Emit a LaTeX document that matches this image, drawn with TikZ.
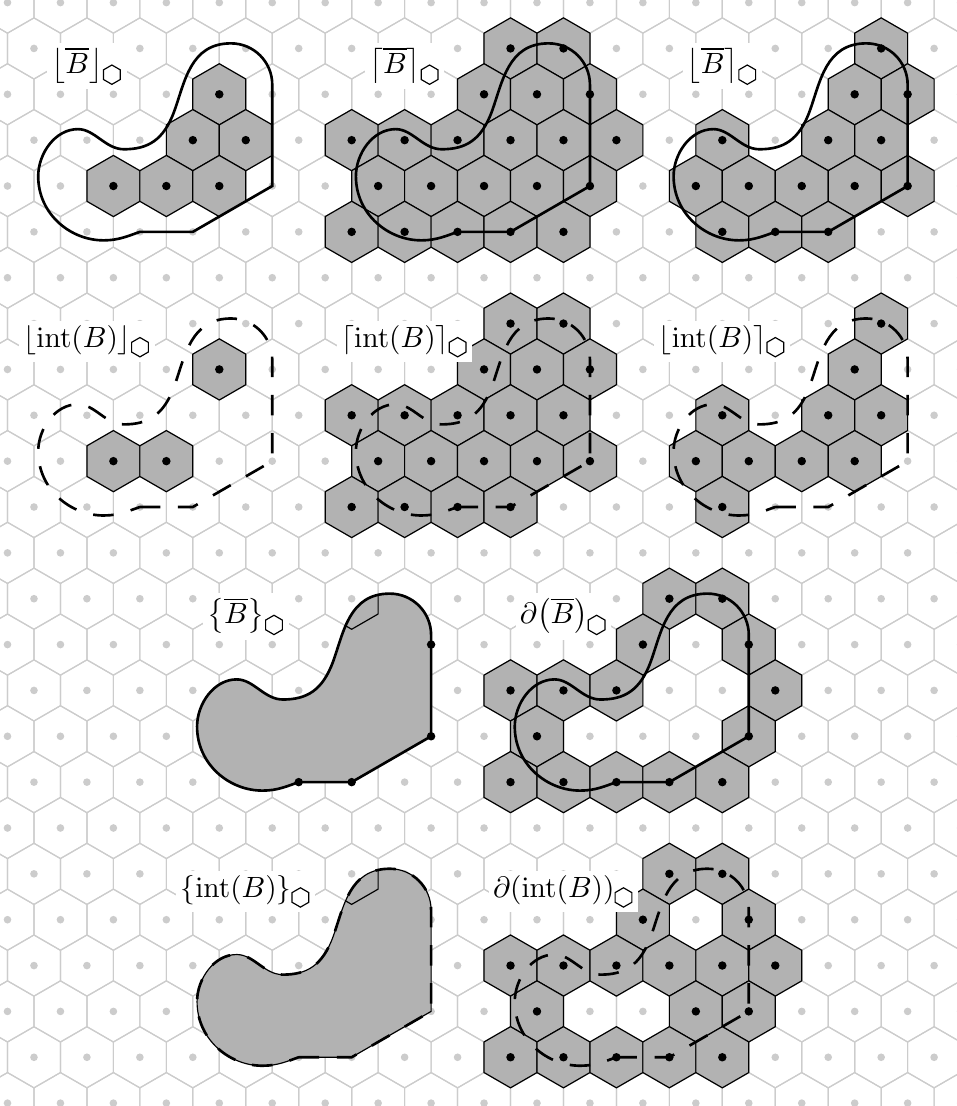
\documentclass[tikz,border=0pt]{standalone}
\usepackage{amsmath}

\tikzset{
  gridline/.style={draw=black!20, thin},
  griddot/.style={fill=black!20},
  cell/.style={draw=black, fill=black!30, thin},
  bdry/.style={draw=black, line width=0.9pt},
  ibdry/.style={draw=black, line width=0.9pt, dash pattern=on 7pt off 6pt},
  lbl/.style={fill=white, inner sep=1.5pt},
}

% one pointy-top hexagon around (#2,#3)
\newcommand{\hexat}[3][]{\draw[#1] (#2,#3) +(30:0.57735) -- +(90:0.57735) -- +(150:0.57735) -- +(210:0.57735) -- +(270:0.57735) -- +(330:0.57735) -- cycle;}
% shaded cells and their centres, given as j/k (column/row)
\newcommand{\cells}[1]{\foreach \j/\k in {#1} {\pgfmathsetmacro\cx{\j+0.5*mod(\k,2)}\pgfmathsetmacro\cy{-0.8660254*\k}\hexat[cell]{\cx}{\cy}}}
\newcommand{\celldots}[1]{\foreach \j/\k in {#1} {\pgfmathsetmacro\cx{\j+0.5*mod(\k,2)}\pgfmathsetmacro\cy{-0.8660254*\k}\fill (\cx,\cy) circle (0.08);}}
% the set B
\newcommand{\Bpath}{(2.5,-4.330) -- (3.5,-4.330) -- (5,-3.464) -- (5,-1.55) arc[start angle=0, end angle=90, radius=0.78] .. controls (3.45,-0.77) and (3.35,-1.5) .. (3.15,-2.05) .. controls (2.95,-2.6) and (2.65,-2.77) .. (2.2,-2.77) .. controls (1.85,-2.77) and (1.65,-2.39) .. (1.33,-2.39) .. controls (0.9,-2.39) and (0.58,-2.85) .. (0.58,-3.28) .. controls (0.58,-4.0) and (1.2,-4.5) .. (1.83,-4.49) .. controls (2.1,-4.49) and (2.3,-4.4) .. (2.5,-4.330) -- cycle}

% small hexagon for the subscripts
\newsavebox{\hexbox}
\newcommand{\hx}{\usebox{\hexbox}}

\begin{document}
\sbox{\hexbox}{\begin{pgfpicture}
  \pgfsetlinewidth{0.4pt}
  \pgfpathmoveto{\pgfpointpolar{30}{3.3pt}}
  \pgfpathlineto{\pgfpointpolar{90}{3.3pt}}
  \pgfpathlineto{\pgfpointpolar{150}{3.3pt}}
  \pgfpathlineto{\pgfpointpolar{210}{3.3pt}}
  \pgfpathlineto{\pgfpointpolar{270}{3.3pt}}
  \pgfpathlineto{\pgfpointpolar{330}{3.3pt}}
  \pgfpathclose
  \pgfusepath{stroke}
\end{pgfpicture}}%
\begin{tikzpicture}[x=0.635cm, y=0.635cm]
  \useasboundingbox (-0.1416,0.0491) rectangle (17.932,-20.839);
  \clip (-0.1416,0.0491) rectangle (17.932,-20.839);

  % background grid
  \foreach \k in {-1,...,24}
    \foreach \j in {-1,...,18} {
      \pgfmathsetmacro\cx{\j+0.5*mod(\k,2)}
      \pgfmathsetmacro\cy{-0.8660254*\k}
      \hexat[gridline]{\cx}{\cy}
      \fill[griddot] (\cx,\cy) circle (0.072);
    }

  % row 1
  \begin{scope}
    \cells{4/2,3/3,4/3,2/4,3/4,4/4}
    \draw[bdry] \Bpath;
    \celldots{4/2,3/3,4/3,2/4,3/4,4/4}
    \node[lbl] (floorB) at (1.5,-1.2) {$\left\lfloor\overline{B}\right\rfloor_{\hx}$};
  \end{scope}
  \begin{scope}[shift={(6,0)}]
    \cells{3/1,4/1,3/2,4/2,5/2,0/3,1/3,2/3,3/3,4/3,5/3,1/4,2/4,3/4,4/4,5/4,0/5,1/5,2/5,3/5,4/5}
    \draw[bdry] \Bpath;
    \celldots{3/1,4/1,3/2,4/2,5/2,0/3,1/3,2/3,3/3,4/3,5/3,1/4,2/4,3/4,4/4,5/4,0/5,1/5,2/5,3/5,4/5}
    \node[lbl] (ceilB) at (1.5,-1.2) {$\left\lceil\overline{B}\right\rceil_{\hx}$};
  \end{scope}
  \begin{scope}[shift={(12,0)}]
    \cells{4/1,4/2,5/2,1/3,3/3,4/3,1/4,2/4,3/4,4/4,5/4,1/5,2/5,3/5}
    \draw[bdry] \Bpath;
    \celldots{4/1,4/2,5/2,1/3,3/3,4/3,1/4,2/4,3/4,4/4,5/4,1/5,2/5,3/5}
    \node[lbl] (roundB) at (1.5,-1.2) {$\left\lfloor\overline{B}\right\rceil_{\hx}$};
  \end{scope}

  % row 2
  \begin{scope}[shift={(0,-5.196)}]
    \cells{4/2,2/4,3/4}
    \draw[ibdry] \Bpath;
    \celldots{4/2,2/4,3/4}
    \node[lbl] (floorI) at (1.5,-1.2) {$\lfloor\mathrm{int}(B)\rfloor_{\hx}$};
  \end{scope}
  \begin{scope}[shift={(6,-5.196)}]
    \cells{3/1,4/1,3/2,4/2,5/2,0/3,1/3,2/3,3/3,4/3,1/4,2/4,3/4,4/4,5/4,0/5,1/5,2/5,3/5}
    \draw[ibdry] \Bpath;
    \celldots{3/1,4/1,3/2,4/2,5/2,0/3,1/3,2/3,3/3,4/3,1/4,2/4,3/4,4/4,5/4,0/5,1/5,2/5,3/5}
    \node[lbl] (ceilI) at (1.5,-1.2) {$\lceil\mathrm{int}(B)\rceil_{\hx}$};
  \end{scope}
  \begin{scope}[shift={(12,-5.196)}]
    \cells{4/1,4/2,1/3,3/3,4/3,1/4,2/4,3/4,4/4,1/5}
    \draw[ibdry] \Bpath;
    \celldots{4/1,4/2,1/3,3/3,4/3,1/4,2/4,3/4,4/4,1/5}
    \node[lbl] (roundI) at (1.5,-1.2) {$\lfloor\mathrm{int}(B)\rceil_{\hx}$};
  \end{scope}

  % row 3
  \begin{scope}[shift={(3,-10.392)}]
    \fill[black!30] \Bpath;
    \begin{scope}
      \clip \Bpath;
      \hexat[thin]{3.5}{-0.8660254}
    \end{scope}
    \draw[bdry] \Bpath;
    \celldots{2/5,3/5,5/4,5/2}
    \node[lbl] (setB) at (1.5,-1.2) {$\bigl\{\overline{B}\bigr\}_{\hx}$};
  \end{scope}
  \begin{scope}[shift={(9,-10.392)}]
    \cells{3/1,4/1,3/2,5/2,0/3,1/3,2/3,5/3,1/4,5/4,0/5,1/5,2/5,3/5,4/5}
    \draw[bdry] \Bpath;
    \celldots{3/1,4/1,3/2,5/2,0/3,1/3,2/3,5/3,1/4,5/4,0/5,1/5,2/5,3/5,4/5}
    \node[lbl] (edgeB) at (1.5,-1.2) {$\partial\bigl(\overline{B}\bigr)_{\hx}$};
  \end{scope}

  % row 4
  \begin{scope}[shift={(3,-15.588)}]
    \fill[black!30] \Bpath;
    \begin{scope}
      \clip \Bpath;
      \hexat[thin]{3.5}{-0.8660254}
    \end{scope}
    \draw[thin] \Bpath;
    \draw[ibdry] \Bpath;
    \node[lbl] (setI) at (1.5,-1.2) {$\{\mathrm{int}(B)\}_{\hx}$};
  \end{scope}
  \begin{scope}[shift={(9,-15.588)}]
    \cells{3/1,4/1,3/2,5/2,0/3,1/3,2/3,3/3,4/3,5/3,1/4,4/4,5/4,0/5,1/5,2/5,3/5,4/5}
    \draw[ibdry] \Bpath;
    \celldots{3/1,4/1,3/2,5/2,0/3,1/3,2/3,3/3,4/3,5/3,1/4,4/4,5/4,0/5,1/5,2/5,3/5,4/5}
    \node[lbl] (edgeI) at (1.5,-1.2) {$\partial(\mathrm{int}(B))_{\hx}$};
  \end{scope}
\end{tikzpicture}
\end{document}
